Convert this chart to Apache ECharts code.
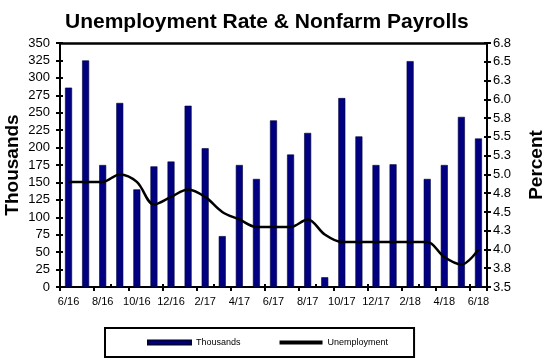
<!DOCTYPE html>
<html>
<head>
<meta charset="utf-8">
<script src="https://cdn.jsdelivr.net/npm/echarts@6/dist/echarts.min.js"></script>
<style>html,body{margin:0;padding:0;background:#fff}#c{width:550px;height:360px}</style>
</head>
<body>
<div id="c"></div>
<script>
const months = ['6/16','7/16','8/16','9/16','10/16','11/16','12/16','1/17','2/17','3/17','4/17','5/17','6/17','7/17','8/17','9/17','10/17','11/17','12/17','1/18','2/18','3/18','4/18','5/18','6/18'];
const payrolls = [286,325,175,264,140,173,180,260,199,73,175,155,239,190,221,14,271,216,175,176,324,155,175,244,213];
const unemployment = [4.9,4.9,4.9,5.0,4.9,4.6,4.7,4.8,4.7,4.5,4.4,4.3,4.3,4.3,4.4,4.2,4.1,4.1,4.1,4.1,4.1,4.1,3.9,3.8,4.0];
const leftTicks = {min:0, max:350, interval:25};
const rightTicks = {min:3.5, max:6.75, interval:0.25};

const chart = echarts.init(document.getElementById('c'));
const font = 'Liberation Sans, Arial, sans-serif';
const axisLineStyle = {color:'#000', width:2};
chart.setOption({
  animation:false,
  backgroundColor:'#fff',
  textStyle:{fontFamily:font},
  title:{text:'Unemployment Rate & Nonfarm Payrolls', left:60, top:7,
    textStyle:{fontSize:21, fontWeight:'bold', color:'#000', fontFamily:font}},
  legend:{
    data:[{name:'Thousands', icon:'rect'},{name:'Unemployment', icon:'rect'}],
    left:105, top:328, itemWidth:43, itemHeight:4, itemGap:39,
    borderColor:'#000', borderWidth:2, padding:[10,26,10,42],
    textStyle:{fontSize:9, color:'#000', fontFamily:font}
  },
  grid:{left:60, right:63, top:43, bottom:73, containLabel:false, outerBoundsMode:'none'},
  xAxis:[
    {type:'category', data:months, position:'bottom', boundaryGap:true,
      axisLine:{lineStyle:axisLineStyle},
      axisTick:{show:true, length:4, lineStyle:{color:'#000', width:2}},
      axisLabel:{interval:1, fontSize:11, color:'#000', margin:9, fontFamily:font}},
    {type:'category', data:months, position:'bottom', boundaryGap:true,
      axisLine:{show:false}, axisTick:{show:true, inside:true, length:3, lineStyle:{color:'#000', width:2}},
      axisLabel:{show:false}},
    {type:'category', data:months, position:'top', boundaryGap:true,
      axisLine:{show:true, lineStyle:{color:'#000', width:2.5}}, axisTick:{show:false}, axisLabel:{show:false}}
  ],
  yAxis:[
    {type:'value', position:'left', min:leftTicks.min, max:leftTicks.max, interval:leftTicks.interval,
      name:'Thousands', nameLocation:'middle', nameGap:38, nameRotate:90, nameMoveOverlap:false,
      nameTextStyle:{fontSize:19, fontWeight:'bold', color:'#000', fontFamily:font},
      axisLine:{show:true, lineStyle:axisLineStyle},
      axisTick:{show:true, length:4, lineStyle:{color:'#000', width:2}},
      axisLabel:{fontSize:13, color:'#000', margin:10, fontFamily:font},
      splitLine:{show:false}},
    {type:'value', position:'right', min:rightTicks.min, max:rightTicks.max, interval:rightTicks.interval,
      name:'Percent', nameLocation:'middle', nameGap:40, nameRotate:90, nameMoveOverlap:false,
      nameTextStyle:{fontSize:19, fontWeight:'bold', color:'#000', fontFamily:font},
      axisLine:{show:true, lineStyle:axisLineStyle},
      axisTick:{show:true, length:4, lineStyle:{color:'#000', width:2}},
      axisLabel:{fontSize:13, color:'#000', margin:6, fontFamily:font, formatter:v=>v.toFixed(1)},
      splitLine:{show:false}},
    {type:'value', position:'left', min:leftTicks.min, max:leftTicks.max, interval:leftTicks.interval,
      axisLine:{show:false}, axisTick:{show:true, inside:true, length:3, lineStyle:{color:'#000', width:2}},
      axisLabel:{show:false}, splitLine:{show:false}},
    {type:'value', position:'right', min:rightTicks.min, max:rightTicks.max, interval:rightTicks.interval,
      axisLine:{show:false}, axisTick:{show:true, inside:true, length:3, lineStyle:{color:'#000', width:2}},
      axisLabel:{show:false}, splitLine:{show:false}}
  ],
  series:[
    {name:'Thousands', type:'bar', data:payrolls, xAxisIndex:0, yAxisIndex:0, barWidth:7,
      itemStyle:{color:'#000080', borderColor:'#00003a', borderWidth:0.6}},
    {name:'Unemployment', type:'line', data:unemployment, xAxisIndex:0, yAxisIndex:1,
      smooth:0.35, symbol:'none', showSymbol:false,
      lineStyle:{color:'#000', width:2.5}, itemStyle:{color:'#000'}}
  ]
});
</script>
</body>
</html>
